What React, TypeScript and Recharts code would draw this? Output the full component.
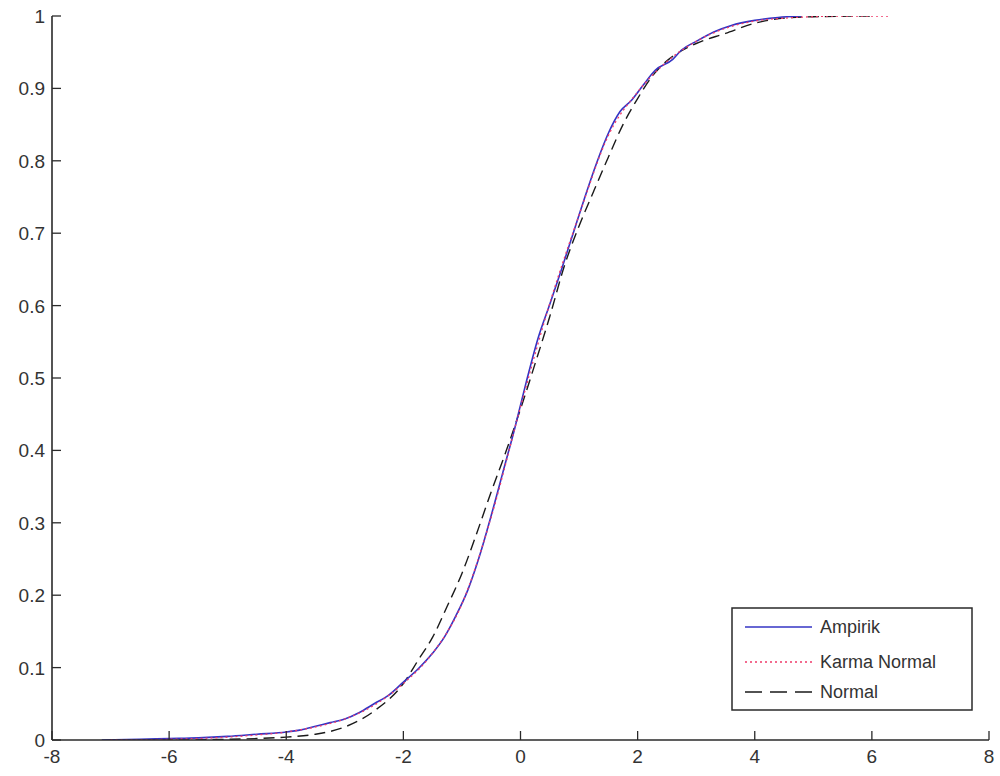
import React from "react";
import { LineChart, Line, XAxis, YAxis } from "recharts";

// ---- data ----
const xTicks = [-8, -6, -4, -2, 0, 2, 4, 6, 8];
const yTicks = [0, 0.1, 0.2, 0.3, 0.4, 0.5, 0.6, 0.7, 0.8, 0.9, 1];

const ampirikX = [-7.15, -6.5, -6.0, -5.5, -5.0, -4.5, -4.0, -3.75, -3.5, -3.25, -3.0, -2.75, -2.5, -2.25, -2.0, -1.75, -1.5, -1.3, -1.1, -0.9, -0.7, -0.5, -0.3, -0.1, 0.1, 0.3, 0.5, 0.7, 0.9, 1.1, 1.3, 1.5, 1.7, 1.9, 2.1, 2.3, 2.6, 2.75, 3.0, 3.3, 3.6, 4.0, 4.4, 4.8];
const ampirikY = [0, 0.001, 0.002, 0.003, 0.005, 0.008, 0.011, 0.014, 0.019, 0.024, 0.029, 0.038, 0.05, 0.062, 0.08, 0.098, 0.12, 0.142, 0.172, 0.207, 0.254, 0.31, 0.37, 0.43, 0.495, 0.555, 0.602, 0.65, 0.7, 0.75, 0.797, 0.838, 0.868, 0.884, 0.905, 0.925, 0.94, 0.953, 0.965, 0.978, 0.987, 0.994, 0.998, 1.0];

const karmaX = [-7.0, -6.0, -5.0, -4.5, -4.0, -3.5, -3.0, -2.5, -2.0, -1.5, -1.0, -0.5, 0.0, 0.5, 1.0, 1.5, 2.0, 2.5, 3.0, 3.5, 4.0, 4.5, 5.0, 5.5, 6.3];
const karmaY = [0, 0.001, 0.004, 0.007, 0.011, 0.018, 0.029, 0.048, 0.078, 0.12, 0.188, 0.308, 0.46, 0.603, 0.725, 0.835, 0.895, 0.937, 0.965, 0.983, 0.993, 0.997, 0.999, 1.0, 1.0];

const normalX = [-7.0, -6.0, -5.0, -4.5, -4.0, -3.5, -3.0, -2.5, -2.0, -1.75, -1.5, -1.25, -1.0, -0.75, -0.5, -0.25, 0.0, 0.25, 0.5, 0.75, 1.0, 1.25, 1.5, 1.75, 2.0, 2.25, 2.5, 2.75, 3.0, 3.5, 4.0, 4.5, 5.0, 6.0];
const normalY = [0, 0, 0.001, 0.002, 0.004, 0.008, 0.018, 0.04, 0.078, 0.11, 0.142, 0.185, 0.23, 0.285, 0.343, 0.398, 0.457, 0.52, 0.585, 0.655, 0.71, 0.758, 0.805, 0.85, 0.886, 0.917, 0.938, 0.952, 0.962, 0.976, 0.99, 0.997, 0.999, 1.0];

const seriesNames = ["Ampirik", "Karma Normal", "Normal"];

const ampirikData = ampirikX.map((x, i) => ({ x, y: ampirikY[i] }));
const karmaData = karmaX.map((x, i) => ({ x, y: karmaY[i] }));
const normalData = normalX.map((x, i) => ({ x, y: normalY[i] }));

// ---- styles ----
const FONT = "'Liberation Sans', Arial, sans-serif";
const AXIS = "#2a2a2a";
const TEXT = "#333333";
const BLUE = "#3434c4";
const RED = "#f03a6a";
const BLACK = "#1a1a1a";
const TICK_LEN = 9;

const BottomTick = (props: any) => {
  const { x, y, payload } = props;
  return (
    <g>
      <line x1={x} y1={y} x2={x} y2={y - TICK_LEN} stroke={AXIS} strokeWidth={1.3} />
      <text x={x} y={y + 23} textAnchor="middle" fontFamily={FONT} fontSize={19} fill={TEXT}>
        {payload.value}
      </text>
    </g>
  );
};

const TopTick = (props: any) => {
  const { x, y } = props;
  return <line x1={x} y1={y} x2={x} y2={y + TICK_LEN} stroke={AXIS} strokeWidth={1.3} />;
};

const LeftTick = (props: any) => {
  const { x, y, payload } = props;
  return (
    <g>
      <line x1={x} y1={y} x2={x + TICK_LEN} y2={y} stroke={AXIS} strokeWidth={1.3} />
      <text x={x - 7} y={y + 7} textAnchor="end" fontFamily={FONT} fontSize={19} fill={TEXT}>
        {String(payload.value)}
      </text>
    </g>
  );
};

const RightTick = (props: any) => {
  const { x, y } = props;
  return <line x1={x} y1={y} x2={x - TICK_LEN} y2={y} stroke={AXIS} strokeWidth={1.3} />;
};

const LegendBox = () => {
  const rows = [
    { name: seriesNames[0], color: BLUE, dash: undefined as string | undefined, w: 1.6 },
    { name: seriesNames[1], color: RED, dash: "2 3", w: 1.4 },
    { name: seriesNames[2], color: BLACK, dash: "17 8", w: 1.4 },
  ];
  const rowY = [20, 55, 85];
  return (
    <svg
      width={242}
      height={104}
      style={{ position: "absolute", left: 731, top: 607 }}
    >
      <rect x={1} y={1} width={240} height={102} fill="#ffffff" stroke={AXIS} strokeWidth={1.5} />
      {rows.map((r, i) => (
        <g key={r.name}>
          <line
            x1={14}
            x2={81}
            y1={rowY[i]}
            y2={rowY[i]}
            stroke={r.color}
            strokeWidth={r.w}
            strokeDasharray={r.dash}
          />
          <text x={89} y={rowY[i] + 6} fontFamily={FONT} fontSize={18} fill={TEXT}>
            {r.name}
          </text>
        </g>
      ))}
    </svg>
  );
};

export default function App() {
  return (
    <div style={{ position: "absolute", left: 0, top: 0, width: 1000, height: 776, background: "#ffffff" }}>
      <LineChart
        width={1000}
        height={776}
        margin={{ top: 16, right: 11, bottom: 0, left: 0 }}
      >
        <XAxis
          xAxisId="b"
          type="number"
          dataKey="x"
          domain={[-8, 8]}
          ticks={xTicks}
          allowDataOverflow
          orientation="bottom"
          height={36}
          axisLine={{ stroke: AXIS, strokeWidth: 1.6 }}
          tickLine={false}
          tickSize={0}
          tickMargin={0}
          tick={<BottomTick />}
          interval={0}
        />
        <XAxis
          xAxisId="t"
          type="number"
          dataKey="x"
          domain={[-8, 8]}
          ticks={xTicks}
          allowDataOverflow
          orientation="top"
          height={0}
          axisLine={{ stroke: AXIS, strokeWidth: 1.6 }}
          tickLine={false}
          tickSize={0}
          tickMargin={0}
          tick={<TopTick />}
          interval={0}
        />
        <YAxis
          yAxisId="l"
          type="number"
          dataKey="y"
          domain={[0, 1]}
          ticks={yTicks}
          allowDataOverflow
          orientation="left"
          width={52}
          axisLine={{ stroke: AXIS, strokeWidth: 1.6 }}
          tickLine={false}
          tickSize={0}
          tickMargin={0}
          tick={<LeftTick />}
          interval={0}
        />
        <YAxis
          yAxisId="r"
          type="number"
          dataKey="y"
          domain={[0, 1]}
          ticks={yTicks}
          allowDataOverflow
          orientation="right"
          width={0}
          axisLine={{ stroke: AXIS, strokeWidth: 1.6 }}
          tickLine={false}
          tickSize={0}
          tickMargin={0}
          tick={<RightTick />}
          interval={0}
        />
        <Line
          xAxisId="b"
          yAxisId="l"
          data={normalData}
          dataKey="y"
          name={seriesNames[2]}
          type="monotone"
          stroke={BLACK}
          strokeWidth={1.4}
          strokeDasharray="11 6"
          dot={false}
          activeDot={false}
          isAnimationActive={false}
        />
        <Line
          xAxisId="b"
          yAxisId="l"
          data={ampirikData}
          dataKey="y"
          name={seriesNames[0]}
          type="monotone"
          stroke={BLUE}
          strokeWidth={1.6}
          dot={false}
          activeDot={false}
          isAnimationActive={false}
        />
        <Line
          xAxisId="b"
          yAxisId="l"
          data={karmaData}
          dataKey="y"
          name={seriesNames[1]}
          type="monotone"
          stroke={RED}
          strokeWidth={1.3}
          strokeDasharray="2 3"
          dot={false}
          activeDot={false}
          isAnimationActive={false}
        />
      </LineChart>
      <LegendBox />
    </div>
  );
}
